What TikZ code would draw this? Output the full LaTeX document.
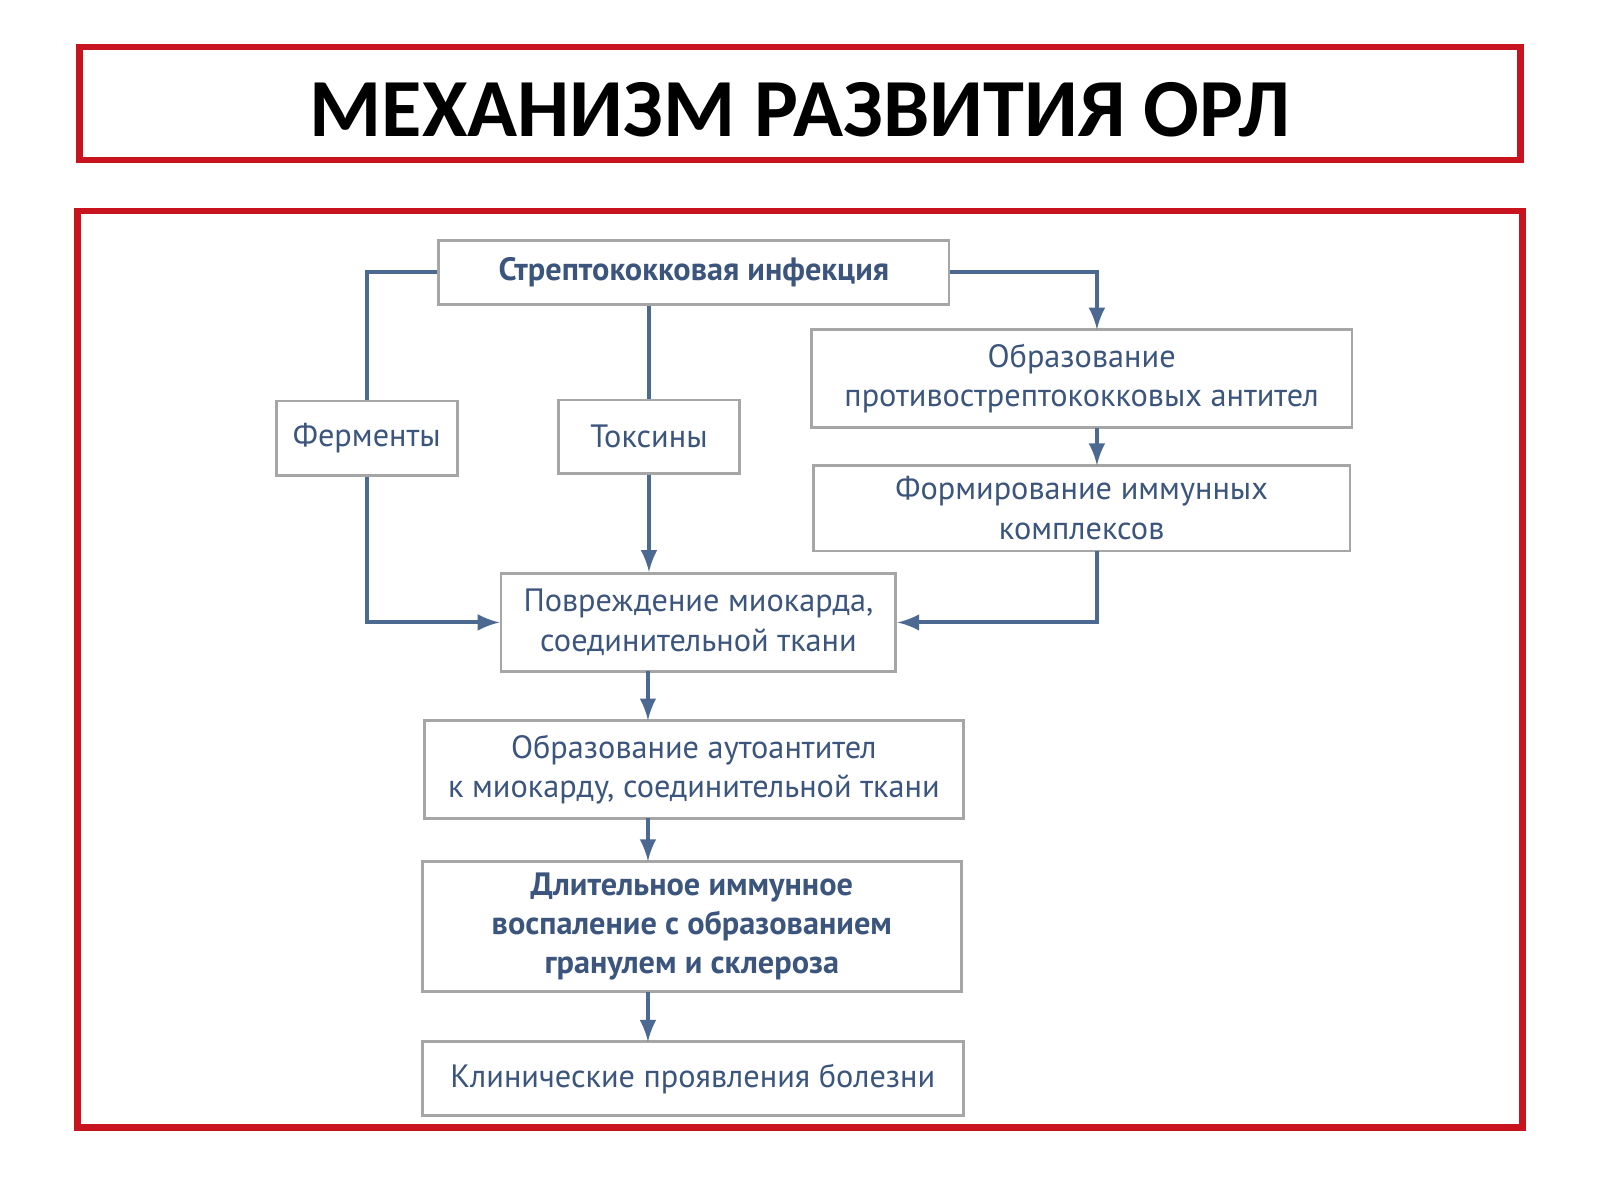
\documentclass[tikz,border=0pt]{standalone}
\usepackage{fontspec}
\setmainfont{PT Sans}
\newfontfamily\titlefont{Carlito}
\usepackage{tikz}
\usetikzlibrary{calc,arrows}
\definecolor{frame}{RGB}{200,20,30}
\definecolor{ink}{RGB}{60,85,125}
\definecolor{edge}{RGB}{75,105,145}
\tikzset{
  blk/.style={draw=gray!70, line width=0.8pt, text=ink, align=center,
              inner sep=0pt, font=\fontsize{9}{11}\selectfont},
  conn/.style={draw=edge, line width=1.1pt},
  arr/.style={conn, -latex}
}
\newcommand{\blkat}[6]{% name, x1, y1, x2, y2, text
  \node[blk, minimum width={(#4-#2)*0.01cm}, minimum height={(#5-#3)*0.01cm}]
    (#1) at ({(#2+#4)/2},{(#3+#5)/2}) {#6};}
\begin{document}
\begin{tikzpicture}[x=0.01cm,y=-0.01cm]
            \useasboundingbox (0,0) rectangle (1568,1176);
            \fill[white] (0,0) rectangle (1568,1176);
            \draw[frame, line width=1.8pt] (78,46) rectangle (1490,157);
            \node[font=\titlefont\bfseries\fontsize{23}{26}\selectfont] (title) at (784,108) {МЕХАНИЗМ РАЗВИТИЯ ОРЛ};
            \draw[frame, line width=1.8pt] (76,207) rectangle (1492,1105);
            % boxes
            \blkat{strep}{430}{236}{930}{298}{\bfseries Стрептококковая инфекция}
            \blkat{ferm}{271}{393}{448}{466}{Ферменты}
            \blkat{tox}{547}{392}{725}{464}{Токсины}
            \blkat{obr}{795}{323}{1325}{419}{Образование\\противострептококковых антител}
            \blkat{form}{797}{456}{1323}{540}{Формирование иммунных\\комплексов}
            \blkat{povr}{491}{562}{878}{658}{Повреждение миокарда,\\соединительной ткани}
            \blkat{auto}{416}{706}{944}{802}{Образование аутоантител\\к миокарду, соединительной ткани}
            \blkat{dlit}{414}{844}{942}{972}{\bfseries Длительное иммунное\\\bfseries воспаление с образованием\\\bfseries гранулем и склероза}
            \blkat{klin}{414}{1021}{944}{1093}{Клинические проявления болезни}
            % connectors
            \draw[conn] (strep.west) -| (ferm.north);
            \draw[arr] (ferm.south) |- (povr.west);
            \draw[conn] (strep.south -| tox.north) -- (tox.north);
            \draw[arr] (tox.south) -- (tox.south |- povr.north);
            \draw[arr] (strep.east) -| (1075,323);
            \draw[arr] (1075,419) -- (1075,456);
            \draw[arr] (1075,540) |- (povr.east);
            \draw[arr] (635,658) -- (635,706);
            \draw[arr] (635,802) -- (635,844);
            \draw[arr] (635,972) -- (635,1021);
        \end{tikzpicture}
\end{document}
